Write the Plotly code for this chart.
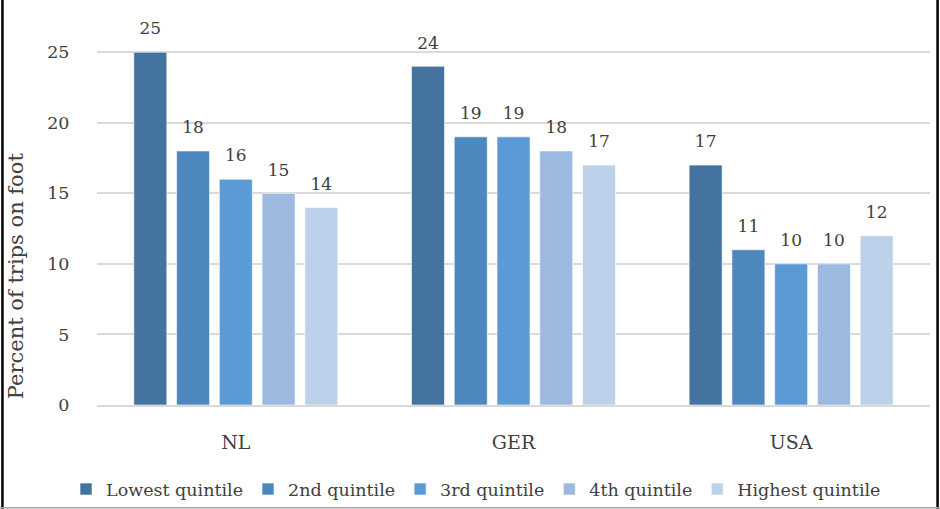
import plotly.graph_objects as go

categories = ["NL", "GER", "USA"]
series_names = ["Lowest quintile", "2nd quintile", "3rd quintile", "4th quintile", "Highest quintile"]
lowest = [25, 24, 17]
second = [18, 19, 11]
third = [16, 19, 10]
fourth = [15, 18, 10]
highest = [14, 17, 12]
y_ticks = [0, 5, 10, 15, 20, 25]

values = [lowest, second, third, fourth, highest]
colors = ["#44739F", "#4C88BD", "#5B9BD5", "#9CBAE0", "#BED1EB"]

FONT = "DejaVu Serif, serif"
TXT = "#404040"
BARGAP = 0.23

fig = go.Figure()
for name, vals, col in zip(series_names, values, colors):
    fig.add_trace(go.Bar(
        name=name, x=categories, y=vals,
        marker=dict(color=col, line=dict(color="rgba(255,255,255,0.6)", width=1)),
        hoverinfo="skip",
    ))
for name, vals in zip(series_names, values):
    fig.add_trace(go.Scatter(
        name=name, x=categories, y=vals, mode="markers+text",
        marker=dict(size=20, color="rgba(0,0,0,0)"),
        text=[str(v) for v in vals], textposition="top center",
        textfont=dict(family=FONT, size=17, color=TXT),
        showlegend=False, cliponaxis=False, hoverinfo="skip",
    ))

fig.update_layout(
    width=940, height=509,
    margin=dict(l=97, r=10, t=31, b=104, autoexpand=False),
    paper_bgcolor="white", plot_bgcolor="white",
    barmode="group", bargap=BARGAP, bargroupgap=0.228,
    scattermode="group", scattergap=BARGAP,
    font=dict(family=FONT, size=17, color=TXT),
    showlegend=True,
    legend=dict(orientation="h", x=0.455, xanchor="center", y=-0.225, yanchor="middle",
                font=dict(family=FONT, size=17.5, color=TXT), itemwidth=30,
                traceorder="normal"),
    xaxis=dict(showgrid=False, showline=True, linecolor="#D9D9D9", linewidth=1.5,
               automargin=False,
               ticks="outside", ticklen=19, tickcolor="rgba(0,0,0,0)",
               tickfont=dict(family=FONT, size=19, color=TXT)),
    yaxis=dict(range=[0, 26.5], tickvals=y_ticks, showgrid=True, gridcolor="#D9D9D9",
               automargin=False,
               gridwidth=1.5, zeroline=False, showline=False,
               ticks="outside", ticklen=23, tickcolor="rgba(0,0,0,0)",
               tickfont=dict(family=FONT, size=17.5, color=TXT)),
    annotations=[dict(text="Percent of trips on foot", textangle=-90,
                      xref="paper", yref="paper", x=-0.097, y=0.345,
                      xanchor="center", yanchor="middle", showarrow=False,
                      font=dict(family=FONT, size=21, color=TXT))],
    shapes=[
        dict(type="line", xref="paper", yref="paper", x0=-0.1135, x1=-0.1135, y0=-0.3, y1=1.1,
             line=dict(color="black", width=2.5)),
        dict(type="line", xref="paper", yref="paper", x0=1.0091, x1=1.0091, y0=-0.3, y1=1.1,
             line=dict(color="black", width=2.5)),
        dict(type="line", xref="paper", yref="paper", x0=-0.12, x1=1.02, y0=-0.2745, y1=-0.2745,
             line=dict(color="#A6A6A6", width=1.5)),
    ],
)

fig.write_html("out.html", config={"displayModeBar": False},
               post_script="document.body.style.margin='0';")
